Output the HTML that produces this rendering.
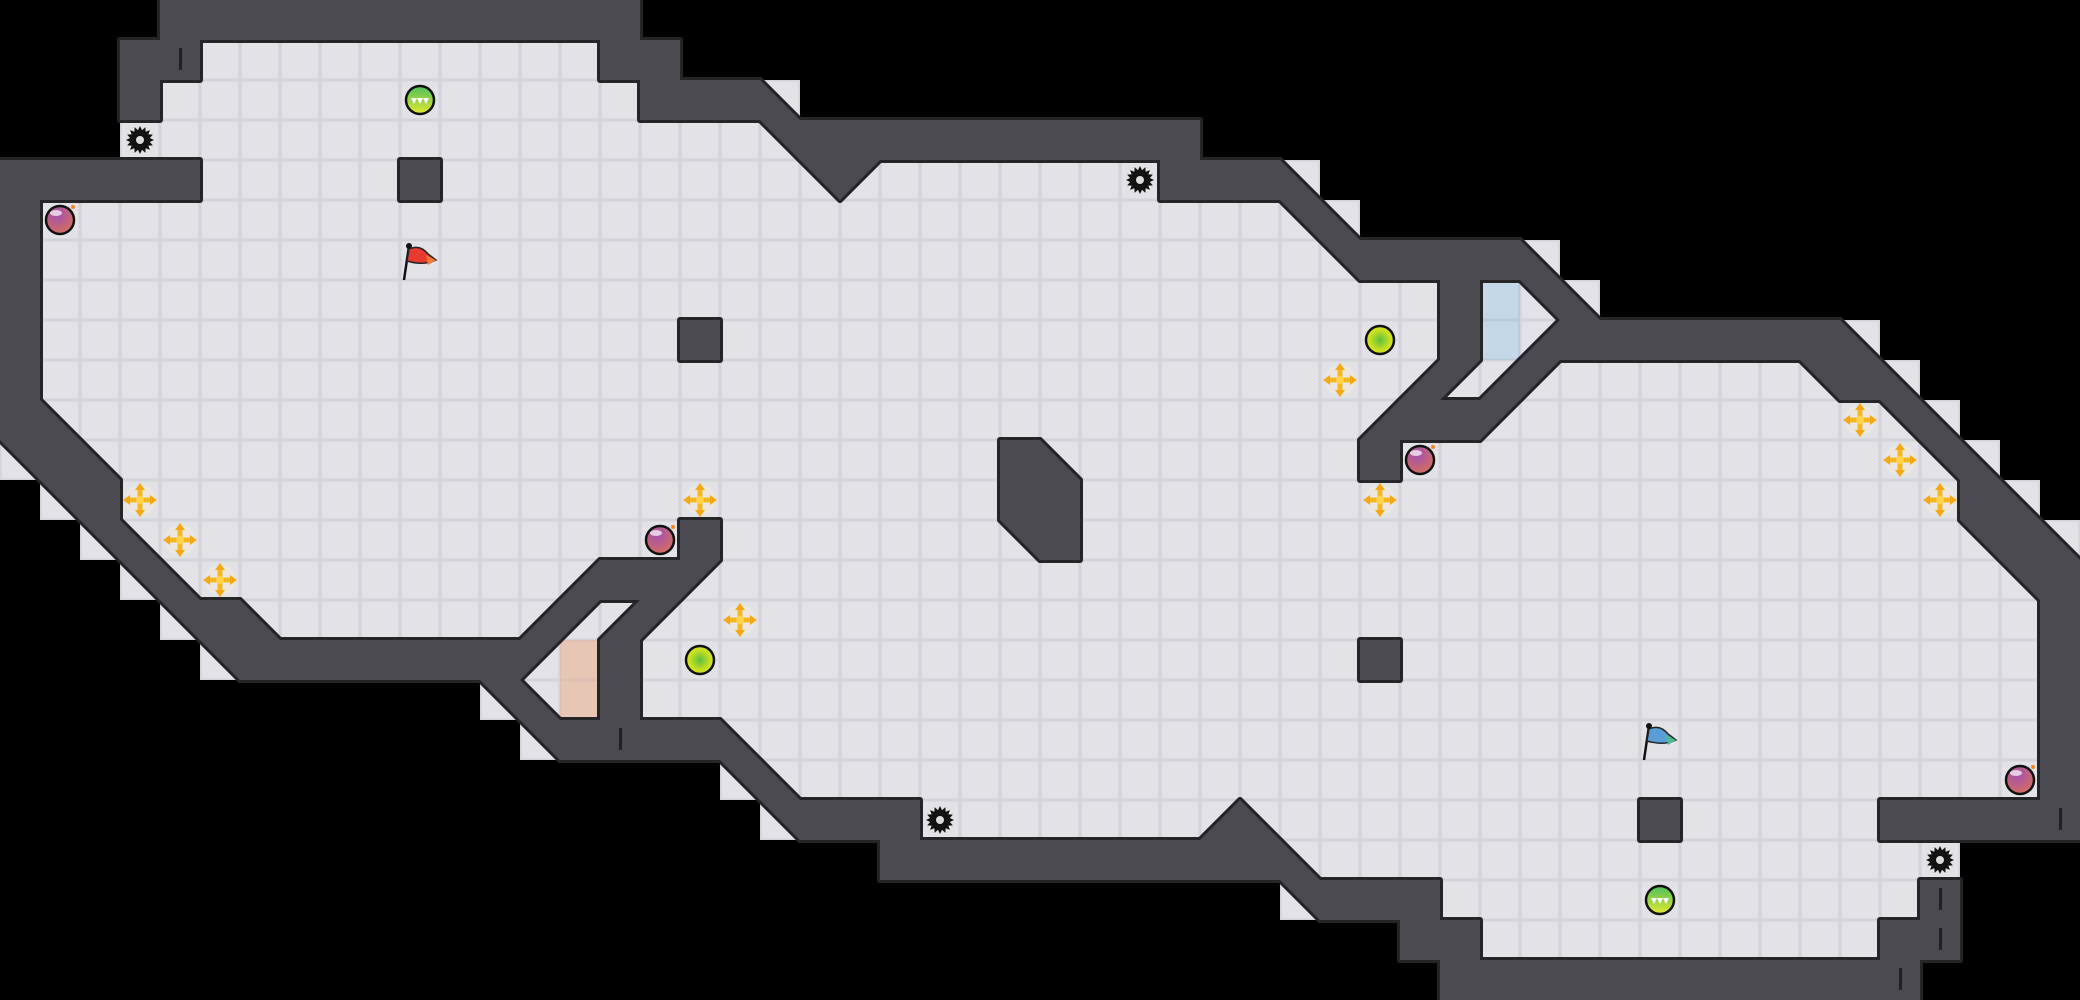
<!DOCTYPE html>
<html><head><meta charset="utf-8"><style>
html,body{margin:0;padding:0;background:#000;width:2080px;height:1000px;overflow:hidden}
svg{display:block}
</style></head><body>
<svg id="s" width="2080" height="1000" viewBox="0 0 2080 1000" xmlns="http://www.w3.org/2000/svg">
<defs>
<radialGradient id="gPur" cx="40%" cy="30%" r="75%"><stop offset="0" stop-color="#a14fb0"/><stop offset="1" stop-color="#d8705a"/></radialGradient>
<linearGradient id="gGrn" x1="0" y1="0" x2="0" y2="1"><stop offset="0" stop-color="#4cbf5a"/><stop offset="1" stop-color="#e4e830"/></linearGradient>
<radialGradient id="gYel" cx="50%" cy="50%" r="60%"><stop offset="0" stop-color="#5cc040"/><stop offset="0.6" stop-color="#c8e020"/><stop offset="1" stop-color="#dde820"/></radialGradient>
</defs>
<g id="floor"></g><g id="wallS"></g><g id="wallF"></g><g id="items"></g>
</svg>
<script>
(function(){
var W=52,H=25,G=[];
for(var r=0;r<H;r++){G.push([]);for(var c=0;c<W;c++)G[r].push(' ');}
function S(r,a,b,ch){if(b===undefined)b=a;for(var c=a;c<=b;c++)G[r][c]=ch;}
S(0,4,15,'#');
S(1,3,4,'#');S(1,5,14,'.');S(1,15,16,'#');
S(2,3,3,'#');S(2,4,15,'.');S(2,16,18,'#');S(2,19,19,'4');
S(3,3,18,'.');S(3,19,19,'2');S(3,20,29,'#');
S(4,0,4,'#');S(4,5,19,'.');S(4,10,10,'#');S(4,20,20,'2');S(4,21,21,'1');S(4,22,28,'.');S(4,29,31,'#');S(4,32,32,'4');
S(5,0,0,'#');S(5,1,31,'.');S(5,32,32,'2');S(5,33,33,'4');
S(6,0,0,'#');S(6,1,32,'.');S(6,33,33,'2');S(6,34,37,'#');S(6,38,38,'4');
S(7,0,0,'#');S(7,1,35,'.');S(7,36,36,'#');S(7,37,37,'b');S(7,38,38,'2');S(7,39,39,'4');
S(8,0,0,'#');S(8,1,35,'.');S(8,17,17,'#');S(8,36,36,'#');S(8,37,37,'b');S(8,38,38,'3');S(8,39,45,'#');S(8,46,46,'4');
S(9,0,0,'#');S(9,1,34,'.');S(9,35,35,'3');S(9,36,36,'1');S(9,37,37,'3');S(9,38,38,'1');S(9,39,44,'.');S(9,45,45,'2');S(9,46,46,'#');S(9,47,47,'4');
S(10,0,0,'#');S(10,1,1,'4');S(10,2,33,'.');S(10,34,34,'3');S(10,35,36,'#');S(10,37,37,'1');S(10,38,46,'.');S(10,47,47,'2');S(10,48,48,'4');
S(11,0,0,'2');S(11,1,1,'#');S(11,2,2,'4');S(11,3,33,'.');S(11,25,25,'#');S(11,26,26,'4');S(11,34,34,'#');S(11,35,47,'.');S(11,48,48,'2');S(11,49,49,'4');
S(12,1,1,'2');S(12,2,2,'#');S(12,3,48,'.');S(12,25,26,'#');S(12,49,49,'#');S(12,50,50,'4');
S(13,2,2,'2');S(13,3,3,'4');S(13,4,16,'.');S(13,17,17,'#');S(13,18,48,'.');S(13,25,25,'2');S(13,26,26,'#');S(13,49,49,'2');S(13,50,50,'#');S(13,51,51,'4');
S(14,3,3,'2');S(14,4,4,'4');S(14,5,13,'.');S(14,14,14,'3');S(14,15,16,'#');S(14,17,17,'1');S(14,18,49,'.');S(14,50,50,'2');S(14,51,51,'#');
S(15,4,4,'2');S(15,5,5,'#');S(15,6,6,'4');S(15,7,12,'.');S(15,13,13,'3');S(15,14,14,'1');S(15,15,15,'3');S(15,16,16,'1');S(15,17,50,'.');S(15,51,51,'#');
S(16,5,5,'2');S(16,6,12,'#');S(16,13,13,'1');S(16,14,14,'r');S(16,15,15,'#');S(16,16,50,'.');S(16,34,34,'#');S(16,51,51,'#');
S(17,12,12,'2');S(17,13,13,'4');S(17,14,14,'r');S(17,15,15,'#');S(17,16,50,'.');S(17,51,51,'#');
S(18,13,13,'2');S(18,14,17,'#');S(18,18,18,'4');S(18,19,50,'.');S(18,51,51,'#');
S(19,18,18,'2');S(19,19,19,'4');S(19,20,50,'.');S(19,51,51,'#');
S(20,19,19,'2');S(20,20,22,'#');S(20,23,29,'.');S(20,30,30,'3');S(20,31,31,'4');S(20,32,46,'.');S(20,41,41,'#');S(20,47,51,'#');
S(21,22,31,'#');S(21,32,32,'4');S(21,33,48,'.');
S(22,32,32,'2');S(22,33,35,'#');S(22,36,47,'.');S(22,48,48,'#');
S(23,35,36,'#');S(23,37,46,'.');S(23,47,48,'#');
S(24,36,47,'#');

var NS='http://www.w3.org/2000/svg';
function el(p,t,a){var e=document.createElementNS(NS,t);for(var k in a)e.setAttribute(k,a[k]);p.appendChild(e);return e;}
var fl=document.getElementById('floor'),ws=document.getElementById('wallS'),wf=document.getElementById('wallF'),it=document.getElementById('items');
function tri(ch,x,y){var T=40;var p={'1':[[x,y],[x+T,y],[x,y+T]],'2':[[x,y],[x+T,y],[x+T,y+T]],'3':[[x+T,y],[x+T,y+T],[x,y+T]],'4':[[x,y],[x,y+T],[x+T,y+T]]}[ch];return p.map(function(q){return q.join(',')}).join(' ');}
for(var r=0;r<H;r++)for(var c=0;c<W;c++){var ch=G[r][c];if(ch===' ')continue;var x=c*40,y=r*40;
 var baseCol=ch==='r'?'#dcc0b4':ch==='b'?'#b8cad8':'#d3d3d9';var topCol=ch==='r'?'#e8c6b6':ch==='b'?'#c4d8e8':'#e2e2e7';
 el(fl,'rect',{x:x,y:y,width:40,height:40,fill:baseCol});
 el(fl,'rect',{x:x+1.5,y:y+1.5,width:37,height:37,fill:topCol});
 if(ch==='#'){el(ws,'rect',{x:x,y:y,width:40,height:40,fill:'#252528',stroke:'#252528','stroke-width':6,'stroke-linejoin':'round'});el(wf,'rect',{x:x,y:y,width:40,height:40,fill:'#4a4a50'});}
 else if('1234'.indexOf(ch)>=0){var pts=tri(ch,x,y);el(ws,'polygon',{points:pts,fill:'#252528',stroke:'#252528','stroke-width':6,'stroke-linejoin':'round'});el(wf,'polygon',{points:pts,fill:'#4a4a50'});}
}
[[4,1],[15,18],[51,20],[48,22],[47,24],[48,23]].forEach(function(q){el(wf,'rect',{x:q[0]*40+19,y:q[1]*40+8,width:3,height:22,fill:'#222'});});
function C(c,r){return [c*40+20,r*40+20];}
function gear(c,r){var p=C(c,r),pts=[];for(var i=0;i<32;i++){var a=i*Math.PI/16,R=i%2?10:14;pts.push((p[0]+R*Math.cos(a)).toFixed(1)+','+(p[1]+R*Math.sin(a)).toFixed(1));}
 el(it,'polygon',{points:pts.join(' '),fill:'#111'});el(it,'circle',{cx:p[0],cy:p[1],r:4,fill:'#ddd'});}
function bomb(c,r){var p=C(c,r);el(it,'circle',{cx:p[0],cy:p[1],r:14,fill:'url(#gPur)',stroke:'#111','stroke-width':2.5});
 el(it,'ellipse',{cx:p[0]-4,cy:p[1]-7,rx:6,ry:3,fill:'#fff',opacity:.7});el(it,'circle',{cx:p[0]+13,cy:p[1]-13,r:2,fill:'#f08a20'});}
function rb(c,r){var p=C(c,r);el(it,'circle',{cx:p[0],cy:p[1],r:14,fill:'url(#gGrn)',stroke:'#111','stroke-width':2.5});
 for(var i=-1;i<=1;i++)el(it,'polygon',{points:(p[0]+i*6-3)+','+(p[1]-2)+' '+(p[0]+i*6+3)+','+(p[1]-2)+' '+(p[0]+i*6)+','+(p[1]+4),fill:'#fff'});}
function yb(c,r){var p=C(c,r);el(it,'circle',{cx:p[0],cy:p[1],r:14,fill:'url(#gYel)',stroke:'#111','stroke-width':2.5});}
function boost(c,r){var p=C(c,r),x=p[0],y=p[1];el(it,'circle',{cx:x,cy:y,r:15,fill:'#efe9e0',opacity:.8});
 el(it,'rect',{x:x-14,y:y-2.5,width:28,height:5,fill:'#f5b820'});el(it,'rect',{x:x-2.5,y:y-14,width:5,height:28,fill:'#f5b820'});
 [[x,y-17,x-5,y-10,x+5,y-10],[x,y+17,x-5,y+10,x+5,y+10],[x-17,y,x-10,y-5,x-10,y+5],[x+17,y,x+10,y-5,x+10,y+5]].forEach(function(a){el(it,'polygon',{points:a[0]+','+a[1]+' '+a[2]+','+a[3]+' '+a[4]+','+a[5],fill:'#f5a818'});});
 el(it,'circle',{cx:x,cy:y,r:4,fill:'#ffd24a'});}
function flag(c,r,col,col2){var p=C(c,r),x=p[0]-18,y=p[1]-16;
 el(it,'line',{x1:x+2,y1:y+36,x2:x+7,y2:y+2,stroke:'#111','stroke-width':2.5});el(it,'circle',{cx:x+7,cy:y+2,r:3,fill:'#111'});
 el(it,'path',{d:'M'+(x+7)+' '+(y+5)+' Q'+(x+18)+' '+(y)+' '+(x+26)+' '+(y+10)+' L'+(x+34)+' '+(y+16)+' Q'+(x+22)+' '+(y+22)+' '+(x+5)+' '+(y+17)+' Z',fill:col,stroke:'#222','stroke-width':1.5});
 el(it,'path',{d:'M'+(x+24)+' '+(y+11)+' L'+(x+34)+' '+(y+16)+' L'+(x+26)+' '+(y+21)+' Z',fill:col2});}
[[3,3],[28,4],[23,20],[48,21]].forEach(function(q){gear(q[0],q[1]);});
[[1,5],[16,13],[35,11],[50,19]].forEach(function(q){bomb(q[0],q[1]);});
rb(10,2);rb(41,22);yb(34,8);yb(17,16);
[[3,12],[4,13],[5,14],[17,12],[18,15],[33,9],[34,12],[46,10],[47,11],[48,12]].forEach(function(q){boost(q[0],q[1]);});
flag(10,6,'#e83a30','#f07a30');flag(41,18,'#5a9ed8','#50b890');
})();
</script>
</body></html>
